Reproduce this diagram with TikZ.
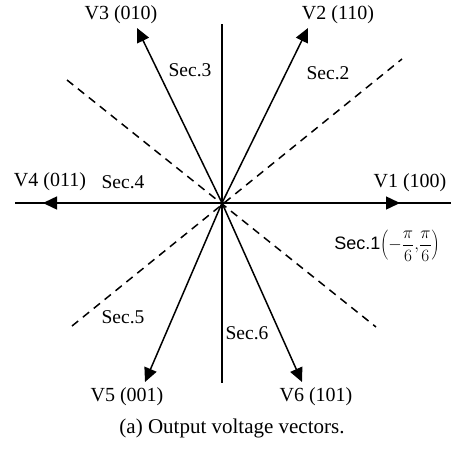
\documentclass[tikz,border=0pt]{standalone}
\usepackage{fontspec}
\setmainfont{Liberation Serif}
\newfontfamily\arialfont{Liberation Sans}
\usetikzlibrary{arrows.meta}

\begin{document}
\begin{tikzpicture}[
    x=1pt, y=-1pt,
    axis/.style={line width=1.5pt},
    vec/.style={line width=1.5pt, -{Triangle[length=14pt, width=13pt]}},
    sect/.style={line width=1.5pt, dash pattern=on 8pt off 6pt},
    lbl/.style={font=\fontsize{20}{24}\selectfont, inner sep=0pt},
    seclbl/.style={font=\fontsize{19.5}{23}\selectfont, inner sep=0pt},
  ]
    \useasboundingbox (0,0) rectangle (453,450);

    % origin and axis ends
    \coordinate (O)    at (222,203);
    \coordinate (xl)   at (15,203);
    \coordinate (xr)   at (451,203);
    \coordinate (yt)   at (222,24);
    \coordinate (yb)   at (222,383);

    % vector tips
    \coordinate (v1) at (400,203);
    \coordinate (v2) at (308,28);
    \coordinate (v3) at (137,28);
    \coordinate (v4) at (43,203);
    \coordinate (v5) at (145,382);
    \coordinate (v6) at (302,382);

    % sector borders
    \coordinate (d1) at (402,59);
    \coordinate (d2) at (72,326);
    \coordinate (d3) at (67,80);
    \coordinate (d4) at (376,327);

    \draw[axis] (xl) -- (xr);
    \draw[axis] (yt) -- (yb);
    \draw[sect] (d2) -- (d1);
    \draw[sect] (d3) -- (d4);

    \draw[vec] (O) -- (v1);
    \draw[vec] (O) -- (v2);
    \draw[vec] (O) -- (v3);
    \draw[vec] (O) -- (v4);
    \draw[vec] (O) -- (v5);
    \draw[vec] (O) -- (v6);

    % vector labels
    \node[lbl] (l1) at (410,183) {V1 (100)};
    \node[lbl] (l2) at (338,15)  {V2 (110)};
    \node[lbl] (l3) at (121,15)  {V3 (010)};
    \node[lbl] (l4) at (50,182)  {V4 (011)};
    \node[lbl] (l5) at (127,397) {V5 (001)};
    \node[lbl] (l6) at (316,397) {V6 (101)};

    % sector labels
    \node[seclbl] (s1) at (387,246) {\arialfont\fontsize{18}{22}\selectfont Sec.1{\fontsize{17}{20}\selectfont$\left(-{\displaystyle\frac{\pi}{6}}{,}{\displaystyle\frac{\pi}{6}}\right)$}};
    \node[seclbl] (s2) at (328,73)  {Sec.2};
    \node[seclbl] (s3) at (190,70)  {Sec.3};
    \node[seclbl] (s4) at (123,182) {Sec.4};
    \node[seclbl] (s5) at (123,317) {Sec.5};
    \node[seclbl] (s6) at (247,333) {Sec.6};

    \node[lbl, font=\fontsize{21}{25}\selectfont] (cap) at (232,428) {(a) Output voltage vectors.};
\end{tikzpicture}
\end{document}
